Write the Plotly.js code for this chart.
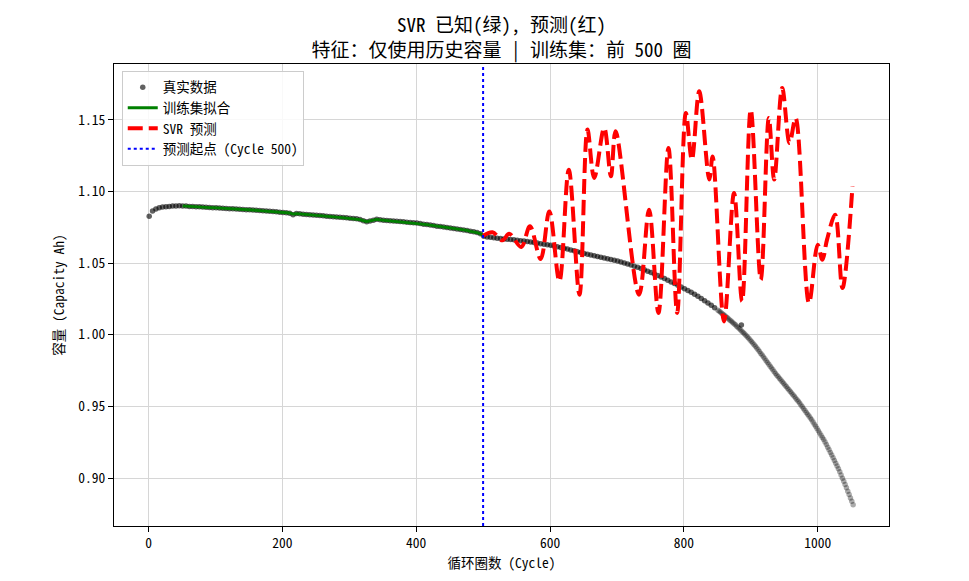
<!DOCTYPE html>
<html>
<head>
<meta charset="utf-8">
<script src="https://cdn.plot.ly/plotly-3.0.1.min.js"></script>
<style>
  html, body { margin: 0; padding: 0; background: #fff; }
  #chart { width: 969px; height: 581px; }
</style>
</head>
<body>
<div id="chart"></div>
<script>
// measured capacity, every 5 cycles from cycle 1 to 846
var headStart = 1, headStep = 5;
var headCap = [
  1.0828, 1.0864, 1.0878, 1.0886, 1.0891, 1.0894, 1.0896, 1.0898, 1.0899, 1.0900,
  1.0899, 1.0898, 1.0896, 1.0895, 1.0894, 1.0893, 1.0891, 1.0890, 1.0889, 1.0887,
  1.0886, 1.0885, 1.0883, 1.0882, 1.0880, 1.0879, 1.0878, 1.0876, 1.0875, 1.0873,
  1.0872, 1.0870, 1.0869, 1.0867, 1.0866, 1.0864, 1.0862, 1.0860, 1.0858, 1.0856,
  1.0854, 1.0852, 1.0849, 1.0838, 1.0846, 1.0844, 1.0842, 1.0840, 1.0838, 1.0836,
  1.0834, 1.0832, 1.0830, 1.0828, 1.0826, 1.0824, 1.0822, 1.0820, 1.0818, 1.0816,
  1.0814, 1.0812, 1.0809, 1.0805, 1.0796, 1.0788, 1.0794, 1.0800, 1.0806, 1.0803,
  1.0800, 1.0798, 1.0796, 1.0794, 1.0792, 1.0790, 1.0788, 1.0786, 1.0784, 1.0782,
  1.0780, 1.0776, 1.0772, 1.0769, 1.0766, 1.0762, 1.0758, 1.0755, 1.0752, 1.0749,
  1.0745, 1.0741, 1.0738, 1.0734, 1.0731, 1.0727, 1.0723, 1.0719, 1.0714, 1.0705,
  1.0688, 1.0682, 1.0680, 1.0677, 1.0674, 1.0672, 1.0669, 1.0667, 1.0665, 1.0663,
  1.0660, 1.0657, 1.0654, 1.0651, 1.0647, 1.0644, 1.0640, 1.0636, 1.0632, 1.0628,
  1.0624, 1.0619, 1.0614, 1.0609, 1.0604, 1.0598, 1.0592, 1.0586, 1.0580, 1.0574,
  1.0568, 1.0562, 1.0557, 1.0552, 1.0546, 1.0541, 1.0536, 1.0531, 1.0526, 1.0520,
  1.0514, 1.0508, 1.0501, 1.0494, 1.0487, 1.0479, 1.0471, 1.0462, 1.0453, 1.0444,
  1.0434, 1.0424, 1.0414, 1.0403, 1.0392, 1.0381, 1.0369, 1.0357, 1.0345, 1.0333,
  1.0322, 1.0309, 1.0296, 1.0282, 1.0268, 1.0253, 1.0238, 1.0222, 1.0206, 1.0189
];
// steep end of life, every 2 cycles from 851 to 1053
var tailStart = 851, tailStep = 2;
var tailCap = [
  1.0171, 1.0164, 1.0157, 1.0149, 1.0142, 1.0134, 1.0126, 1.0118, 1.0110, 1.0102,
  1.0094, 1.0086, 1.0077, 1.0069, 1.0060, 1.0051, 1.0042, 1.0033, 1.0023, 1.0014,
  1.0005, 0.9995, 0.9985, 0.9975, 0.9964, 0.9953, 0.9942, 0.9931, 0.9919, 0.9907,
  0.9895, 0.9883, 0.9870, 0.9858, 0.9845, 0.9832, 0.9819, 0.9806, 0.9794, 0.9781,
  0.9768, 0.9755, 0.9742, 0.9729, 0.9717, 0.9706, 0.9695, 0.9684, 0.9672, 0.9661,
  0.9650, 0.9639, 0.9627, 0.9616, 0.9604, 0.9593, 0.9582, 0.9570, 0.9559, 0.9547,
  0.9536, 0.9523, 0.9510, 0.9497, 0.9484, 0.9471, 0.9458, 0.9445, 0.9432, 0.9419,
  0.9406, 0.9391, 0.9376, 0.9361, 0.9345, 0.9330, 0.9314, 0.9299, 0.9283, 0.9268,
  0.9252, 0.9234, 0.9215, 0.9197, 0.9178, 0.9160, 0.9141, 0.9122, 0.9103, 0.9084,
  0.9065, 0.9043, 0.9021, 0.8999, 0.8977, 0.8955, 0.8932, 0.8908, 0.8885, 0.8861,
  0.8838, 0.8814
];
var outlierCycles = [886];
var outlierCap = [1.0068];

// SVR fit on the training window (cycles 51..501, every 5)
var fitStart = 51, fitStep = 5;
var fitCap = [
  1.0899, 1.0897, 1.0896, 1.0895, 1.0893, 1.0893, 1.0891, 1.0890, 1.0888, 1.0887,
  1.0886, 1.0884, 1.0883, 1.0882, 1.0880, 1.0879, 1.0877, 1.0876, 1.0875, 1.0873,
  1.0871, 1.0870, 1.0869, 1.0867, 1.0865, 1.0864, 1.0862, 1.0860, 1.0858, 1.0856,
  1.0853, 1.0851, 1.0850, 1.0842, 1.0846, 1.0844, 1.0841, 1.0840, 1.0837, 1.0836,
  1.0833, 1.0832, 1.0829, 1.0828, 1.0825, 1.0824, 1.0821, 1.0820, 1.0817, 1.0816,
  1.0813, 1.0812, 1.0808, 1.0804, 1.0797, 1.0790, 1.0795, 1.0800, 1.0805, 1.0802,
  1.0800, 1.0797, 1.0796, 1.0793, 1.0792, 1.0789, 1.0788, 1.0785, 1.0784, 1.0781,
  1.0779, 1.0776, 1.0771, 1.0769, 1.0765, 1.0762, 1.0757, 1.0755, 1.0751, 1.0749,
  1.0744, 1.0742, 1.0737, 1.0735, 1.0730, 1.0728, 1.0722, 1.0719, 1.0713, 1.0705,
  1.0690
];

// SVR prediction after cycle 500
var predCycles = [500, 514, 529, 539, 557, 570, 586, 599, 614, 628, 644, 656, 666, 681, 691, 698,
  733, 748, 762, 777, 790, 803, 812, 823, 838, 843, 860, 875, 887, 900, 915, 927, 935, 947,
  958, 967, 987, 1000, 1007, 1014, 1026, 1037, 1052];
var predCap = [1.0690, 1.0715, 1.0659, 1.0705, 1.0613, 1.0757, 1.0529, 1.0861, 1.0373, 1.1152,
  1.0280, 1.1432, 1.1094, 1.1444, 1.1106, 1.1420, 1.0280, 1.0873, 1.0152, 1.1304, 1.0152,
  1.1548, 1.1222, 1.1699, 1.1083, 1.1245, 1.0093, 1.0990, 1.0233, 1.1571, 1.0384, 1.1513,
  1.1083, 1.1723, 1.1339, 1.1513, 1.0222, 1.0629, 1.0524, 1.0664, 1.0838, 1.0326, 1.1036];

var trainEnd = 500;

var headCycles = headCap.map(function (_, i) { return headStart + i * headStep; });
var tailCycles = tailCap.map(function (_, i) { return tailStart + i * tailStep; });
var fitCycles = fitCap.map(function (_, i) { return fitStart + i * fitStep; });

var font = '"Noto Sans Mono CJK SC", "DejaVu Sans Mono", "Noto Sans CJK SC", monospace';

var data = [
  {
    x: headCycles.concat(outlierCycles),
    y: headCap.concat(outlierCap),
    mode: 'markers',
    type: 'scatter',
    name: '真实数据',
    marker: { color: 'rgba(0,0,0,0.62)', size: 5.5 }
  },
  {
    // denser readings, lighter so the overlap stays grey like the original
    x: tailCycles,
    y: tailCap,
    mode: 'markers',
    type: 'scatter',
    name: '真实数据',
    showlegend: false,
    marker: { color: 'rgba(0,0,0,0.33)', size: 5.5 }
  },
  {
    x: fitCycles,
    y: fitCap,
    mode: 'lines',
    type: 'scatter',
    name: '训练集拟合',
    line: { color: 'green', width: 2.8 }
  },
  {
    x: predCycles,
    y: predCap,
    mode: 'lines',
    type: 'scatter',
    name: 'SVR 预测',
    line: { color: 'red', width: 4, dash: '15px,6px', shape: 'spline', smoothing: 1 }
  }
];

var axisCommon = {
  showline: true, linecolor: 'black', linewidth: 1, mirror: true,
  ticks: 'outside', ticklen: 5, tickcolor: 'black',
  showgrid: true, gridcolor: '#d6d6d6', gridwidth: 1,
  zeroline: false,
  tickfont: { family: font, size: 13.5, color: '#000' }
};

var layout = {
  width: 969, height: 581,
  margin: { l: 114, r: 80, t: 64, b: 55 },
  paper_bgcolor: 'white', plot_bgcolor: 'white',
  font: { family: font, color: '#000' },
  title: {
    text: 'SVR 已知(绿), 预测(红)<br>特征：仅使用历史容量 | 训练集：前 500 圈',
    font: { family: font, size: 19, color: '#000' },
    x: 0.5, xref: 'paper', xanchor: 'center',
    y: 0.945, yref: 'container', yanchor: 'top'
  },
  xaxis: Object.assign({}, axisCommon, {
    range: [-51.6, 1106.6], dtick: 200,
    title: { text: '循环圈数 (Cycle)', font: { family: font, size: 13.5 }, standoff: 6 }
  }),
  yaxis: Object.assign({}, axisCommon, {
    range: [0.8665, 1.189], dtick: 0.05, tickformat: '.2f',
    title: { text: '容量 (Capacity Ah)', font: { family: font, size: 13.5 }, standoff: 10 }
  }),
  showlegend: true,
  legend: {
    x: 0.01, y: 0.985, xanchor: 'left', yanchor: 'top',
    tracegroupgap: 0,
    bgcolor: 'rgba(255,255,255,0.85)', bordercolor: '#cccccc', borderwidth: 1,
    font: { family: font, size: 13.5 }
  },
  shapes: [{
    type: 'line', xref: 'x', yref: 'paper',
    x0: trainEnd, x1: trainEnd, y0: 0, y1: 1,
    line: { color: 'blue', width: 2, dash: 'dot' },
    showlegend: true, name: '预测起点 (Cycle 500)'
  }]
};

Plotly.newPlot('chart', data, layout, { displayModeBar: false, staticPlot: true });
</script>
</body>
</html>
